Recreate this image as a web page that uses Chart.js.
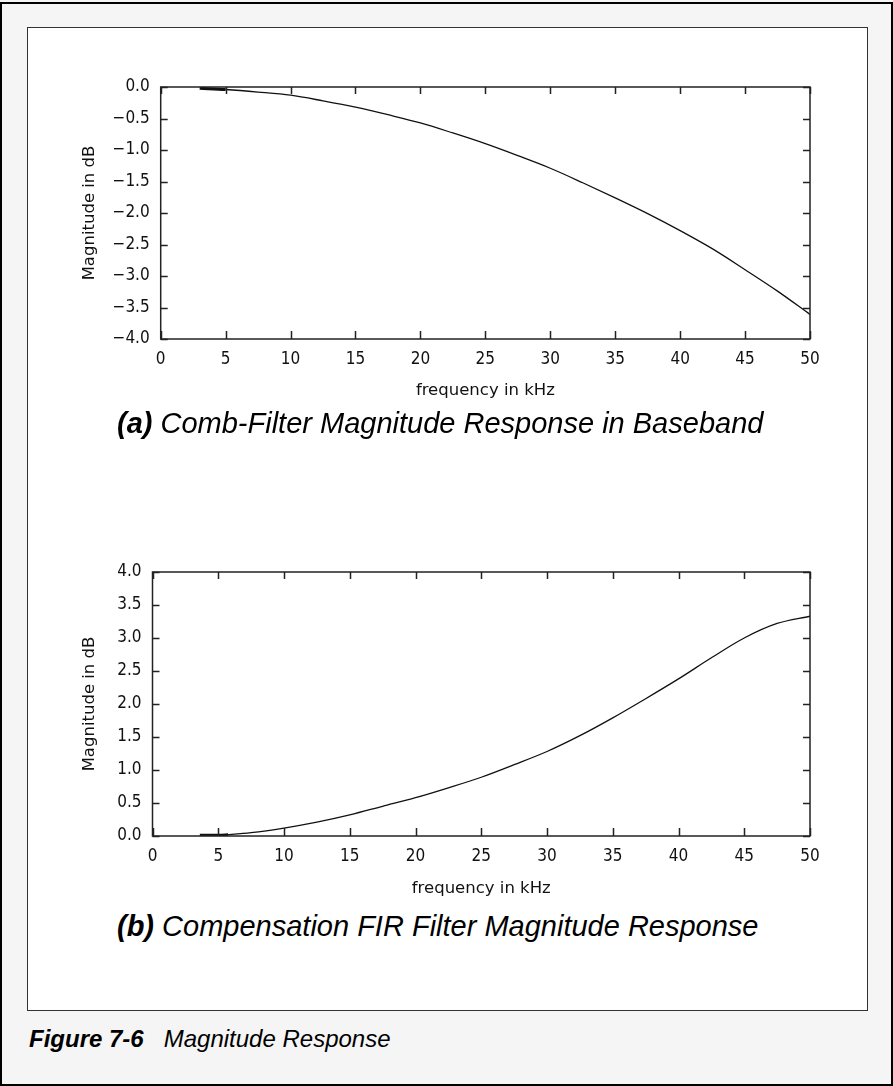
<!DOCTYPE html>
<html>
  <head>
    <style>
      html, body { margin: 0; padding: 0; background: #f5f5f5; }
      #page { position: relative; width: 893px; height: 1086px; overflow: hidden; }
      #outer { position: absolute; left: 0; top: 2px; width: 889px; height: 1080px; border: 2px solid #000; }
      #inner { position: absolute; left: 27px; top: 27px; width: 839px; height: 982px; background: #fff; border: 1px solid #333; }
      canvas { position: absolute; }
      .cap { position: absolute; left: 117px; white-space: nowrap; font: italic 29px "Liberation Sans", Arial, sans-serif; color: #000; }
      .cap b { font-weight: bold; }
      #fig { position: absolute; left: 29px; top: 1025px; font: italic 24px "Liberation Sans", Arial, sans-serif; color: #000; }
    </style>
  </head>
  <body>
    <div id="page">
      <div id="outer"></div>
      <div id="inner"></div>
      <canvas id="combChart" width="800" height="350" style="left: 40px; top: 60px;"></canvas>
      <canvas id="compChart" width="800" height="360" style="left: 40px; top: 545px;"></canvas>
      <div class="cap" style="top: 407px;"><b>(a)</b> Comb-Filter Magnitude Response in Baseband</div>
      <div class="cap" style="top: 910px;"><b>(b)</b> Compensation FIR Filter Magnitude Response</div>
      <div id="fig"><b>Figure 7-6</b>&nbsp;&nbsp;&nbsp;Magnitude Response</div>
    </div>

    <script src="https://cdn.jsdelivr.net/npm/chart.js"></script>
    <script>
      // frequency axis (kHz), shared ticks
      const freqTicks = [0, 5, 10, 15, 20, 25, 30, 35, 40, 45, 50];

      // (a) comb filter response
      const freqA = [3, 5, 7.5, 10, 12.5, 15, 17.5, 20, 22.5, 25, 27.5, 30, 32.5, 35, 37.5, 40, 42.5, 45, 47.5, 50];
      const magA = [-0.02, -0.04, -0.08, -0.13, -0.22, -0.32, -0.44, -0.57, -0.73, -0.90, -1.09, -1.29, -1.52, -1.76, -2.01, -2.28, -2.57, -2.90, -3.24, -3.61];
      const magTicksA = [0.0, -0.5, -1.0, -1.5, -2.0, -2.5, -3.0, -3.5, -4.0];

      // (b) compensation FIR response
      const freqB = [3.6, 5, 5.75, 7.5, 10, 12.5, 15, 17.5, 20, 22.5, 25, 27.5, 30, 32.5, 35, 37.5, 40, 42.5, 45, 47.5, 50];
      const magB = [0.01, 0.01, 0.02, 0.05, 0.12, 0.21, 0.32, 0.45, 0.58, 0.73, 0.89, 1.08, 1.28, 1.52, 1.79, 2.08, 2.38, 2.70, 3.00, 3.22, 3.33];
      const magTicksB = [0.0, 0.5, 1.0, 1.5, 2.0, 2.5, 3.0, 3.5, 4.0];

      const tickFont = { family: '"DejaVu Sans Condensed", "Liberation Sans Narrow", sans-serif', size: 17 };
      const titleFont = { family: '"DejaVu Sans", sans-serif', size: 16.5 };
      const fmt = v => (v < 0 ? '\u2212' : '') + Math.abs(v).toFixed(1);

      // box round the plot, with inward tick marks on all four sides
      const frame = {
        id: 'frame',
        afterDraw(chart) {
          const { ctx, chartArea: a, scales: { x, y } } = chart;
          ctx.save();
          ctx.strokeStyle = '#222';
          ctx.lineWidth = 1.5;
          ctx.strokeRect(a.left, a.top, a.width, a.height);
          ctx.beginPath();
          x.ticks.forEach(t => {
            const px = Math.round(x.getPixelForValue(t.value)) + 0.5;
            ctx.moveTo(px, a.bottom); ctx.lineTo(px, a.bottom - 8);
            ctx.moveTo(px, a.top); ctx.lineTo(px, a.top + 7);
          });
          y.ticks.forEach(t => {
            const py = Math.round(y.getPixelForValue(t.value)) + 0.5;
            ctx.moveTo(a.left, py); ctx.lineTo(a.left + 7, py);
            ctx.moveTo(a.right, py); ctx.lineTo(a.right - 7, py);
          });
          ctx.stroke();
          ctx.restore();
        }
      };

      function makeChart(id, xs, ys, yTicks, yMin, yMax, thickUntil, yWidth, xHeight, padBottom) {
        new Chart(document.getElementById(id), {
          type: 'line',
          data: {
            datasets: [{
              data: xs.map((f, i) => ({ x: f, y: ys[i] })),
              borderColor: '#111',
              borderWidth: 1.3,
              pointRadius: 0,
              tension: 0.4,
              cubicInterpolationMode: 'monotone',
              fill: false,
              segment: {
                borderWidth: c => (c.p1.parsed.x <= thickUntil ? 3 : 1.3)
              }
            }]
          },
          options: {
            responsive: false,
            animation: false,
            devicePixelRatio: 1,
            layout: { padding: { left: 36, right: 30, top: 27, bottom: padBottom } },
            plugins: { legend: { display: false }, tooltip: { enabled: false } },
            scales: {
              x: {
                type: 'linear',
                min: 0, max: 50,
                afterBuildTicks: s => { s.ticks = freqTicks.map(v => ({ value: v })); },
                afterFit: s => { s.height = xHeight; },
                grid: { display: false },
                border: { display: false },
                ticks: { font: tickFont, color: '#111', padding: 2, maxRotation: 0 },
                title: { display: true, text: 'frequency in kHz', font: titleFont, color: '#111' }
              },
              y: {
                min: yMin, max: yMax,
                afterBuildTicks: s => { s.ticks = yTicks.map(v => ({ value: v })); },
                afterFit: s => { s.width = yWidth; },
                grid: { display: false },
                border: { display: false },
                ticks: { font: tickFont, color: '#111', padding: 3, callback: v => fmt(v) },
                title: { display: true, text: 'Magnitude in dB', font: titleFont, color: '#111' }
              }
            }
          },
          plugins: [frame]
        });
      }

      makeChart('combChart', freqA, magA, magTicksA, -4, 0, 5.05, 84.7, 66, 5);
      makeChart('compChart', freqB, magB, magTicksB, 0, 4, 5.8, 76.5, 67, 2);
    </script>
  </body>
</html>
